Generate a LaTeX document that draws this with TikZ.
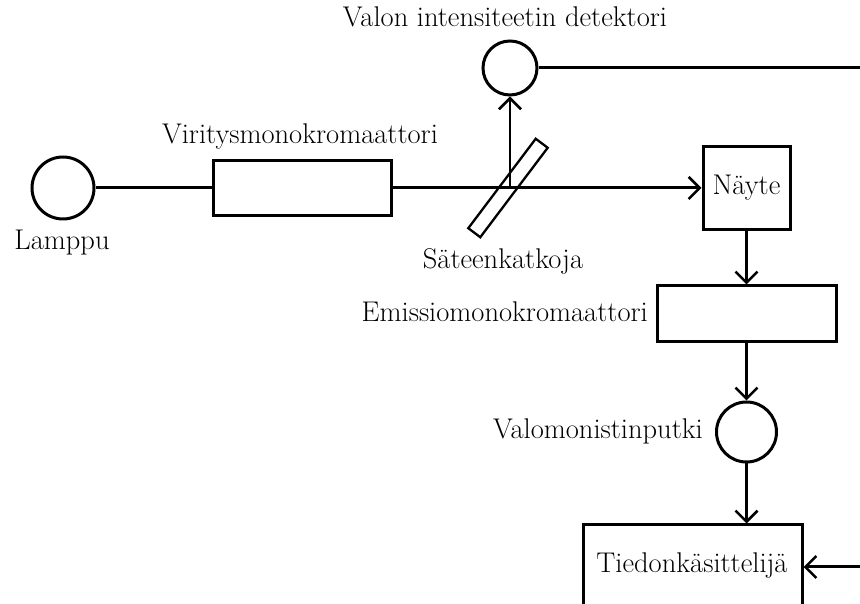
\documentclass[tikz,border=0pt]{standalone}
\usetikzlibrary{arrows.meta}
\begin{document}
\begin{tikzpicture}[x=1pt,y=1pt,
  every node/.append style={font=\fontsize{28.5}{33}\selectfont},
  ln/.style={line width=3pt},
  thin/.style={line width=2.3pt},
  arr/.style={-{Straight Barb[length=11pt,width=22pt,line width=2.6pt]}},
  box/.style={draw,line width=3pt,rectangle,inner sep=0pt,fill=white},
  circ/.style={draw,line width=3pt,circle,inner sep=0pt,fill=white},
  lbl/.style={inner sep=0pt,anchor=base}]
\useasboundingbox (0,0) rectangle (860,604);
\clip (0,0) rectangle (860,604);
% nodes
\node[circ,minimum size=62pt] (lamp) at (63,416) {};
\node[box,minimum width=178pt,minimum height=55pt] (exc) at (302,416) {};
\node[box,minimum width=87pt,minimum height=83pt] (sample) at (746.5,416) {N\"ayte};
\node[draw,line width=2.3pt,rectangle,inner sep=0pt,minimum width=112pt,minimum height=15pt,rotate=53] (split) at (508,416) {};
\coordinate (sp) at (510,416);
\node[circ,minimum size=54pt] (det) at (510,536) {};
\coordinate (detend) at (860,536);
\node[box,minimum width=179pt,minimum height=56pt] (emi) at (746.5,290) {};
\node[circ,minimum size=60pt] (pmt) at (746.5,172) {};
\node[box,minimum width=219pt,minimum height=120pt] (data) at (692.5,19) {};
\node (datatext) at (692,38) {Tiedonk\"asittelij\"a};
\coordinate (dataend) at (860,37);
% labels
\node[lbl] (llamp) at (62,354) {Lamppu};
\node[lbl] (lexc) at (300,460) {Viritysmonokromaattori};
\node[lbl] (ldet) at (505,577) {Valon intensiteetin detektori};
\node[lbl] (lsplit) at (503,335) {S\"ateenkatkoja};
\node[lbl,anchor=base east] (lemi) at (648,282) {Emissiomonokromaattori};
\node[lbl,anchor=base east] (lpmt) at (703,165) {Valomonistinputki};
% connectors
\draw[ln] (lamp.east) -- (lamp.east -| exc.west);
\draw[ln,arr] (exc.east) -- (exc.east -| sample.west);
\draw[thin,arr] (sp) -- (sp |- det.south);
\draw[ln] (det.east) -- (detend);
\draw[ln,arr] (sample.south) -- (sample.south |- emi.north);
\draw[ln,arr] (emi.south) -- (emi.south |- pmt.north);
\draw[ln,arr] (pmt.south) -- (pmt.south |- data.north);
\draw[ln,arr] (dataend) -- (dataend -| data.east);
\end{tikzpicture}
\end{document}
